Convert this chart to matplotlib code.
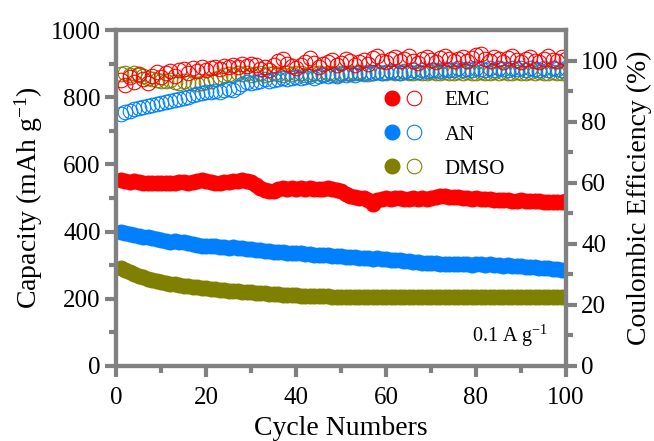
import matplotlib
matplotlib.use("Agg")
import matplotlib.pyplot as plt
import numpy as np
from matplotlib.legend_handler import HandlerTuple
from matplotlib.lines import Line2D

# cycle index, 1..100
cycles = np.arange(1, 101)

# discharge capacity, mAh g-1
cap_emc = [
    553, 550, 548, 551, 547, 545, 546, 544, 546, 545,
    544, 546, 545, 547, 548, 546, 549, 552, 555, 551,
    548, 546, 544, 547, 549, 550, 551, 553, 550, 548,
    540, 530, 523, 520, 522, 527, 529, 528, 530, 527,
    529, 528, 530, 527, 528, 526, 529, 527, 524, 520,
    512, 506, 502, 500, 499, 495, 482, 494, 498, 499,
    497, 499, 500, 498, 497, 499, 498, 500, 498, 500,
    503, 505, 506, 504, 503, 502, 500, 499, 498, 500,
    497, 496, 497, 495, 494, 493, 494, 492, 491, 493,
    492, 490, 491, 490, 488, 489, 487, 489, 488, 490,
]
cap_an = [
    398, 395, 392, 390, 387, 385, 383, 380, 377, 374,
    372, 370, 371, 369, 368, 366, 363, 360, 358, 357,
    356, 357, 355, 354, 352, 353, 351, 350, 349, 347,
    346, 344, 343, 341, 340, 339, 338, 337, 336, 335,
    335, 333, 332, 331, 330, 331, 329, 328, 327, 326,
    325, 324, 323, 322, 321, 320, 319, 320, 318, 317,
    316, 315, 314, 313, 312, 311, 310, 308, 307, 308,
    306, 305, 304, 305, 303, 304, 305, 303, 302, 304,
    303, 302, 304, 301, 300, 299, 300, 298, 299, 297,
    296, 295, 294, 293, 292, 291, 289, 288, 287, 286,
]
cap_dmso = [
    292, 285, 279, 273, 268, 264, 260, 256, 253, 250,
    247, 245, 243, 241, 239, 237, 235, 234, 232, 231,
    230, 228, 227, 226, 224, 223, 222, 221, 220, 219,
    218, 217, 216, 215, 214, 213, 212, 211, 210, 210,
    209, 209, 208, 208, 207, 207, 207, 206, 206, 206,
    205, 205, 204, 205, 205, 204, 205, 205, 204, 205,
    205, 204, 205, 205, 205, 204, 205, 205, 204, 205,
    205, 205, 204, 205, 205, 204, 205, 205, 205, 204,
    205, 205, 204, 205, 205, 205, 204, 205, 205, 204,
    205, 205, 205, 204, 205, 205, 204, 205, 205, 205,
]

# coulombic efficiency, %
ce_emc = [
    93.5, 92.0, 94.5, 93.0, 95.5, 94.0, 92.8, 95.0, 96.2, 94.5,
    95.8, 96.5, 95.0, 96.8, 97.2, 96.0, 97.5, 96.5, 97.8, 97.0,
    97.6, 98.0, 97.2, 98.3, 97.8, 98.6, 98.0, 99.0, 98.2, 98.8,
    98.4, 97.2, 98.0, 97.0, 98.6, 99.8, 100.5, 99.0, 98.2, 97.5,
    98.5, 99.6, 100.8, 99.2, 98.0, 98.8, 99.5, 100.2, 98.6, 99.2,
    100.6, 99.8, 98.6, 99.4, 100.2, 99.0, 100.8, 101.5, 100.0, 99.4,
    100.4, 101.2, 99.8, 100.6, 101.4, 100.0, 99.2, 100.6, 101.0, 100.2,
    99.6, 100.8, 101.6, 100.4, 99.8, 100.6, 101.2, 100.0, 100.8, 101.8,
    102.0, 100.6, 99.8, 101.0, 100.4, 99.6, 100.8, 101.6, 100.2, 99.6,
    100.4, 101.2, 100.0, 99.4, 100.6, 101.4, 100.2, 99.8, 101.0, 100.4,
]
ce_an = [
    82.5, 83.2, 83.6, 84.0, 84.4, 84.8, 85.2, 85.6, 85.9, 86.2,
    86.5, 86.8, 87.2, 87.5, 87.8, 88.2, 88.6, 89.0, 89.3, 89.6,
    89.8, 90.0, 89.6, 90.2, 90.6, 90.4, 91.4, 92.4, 93.0, 92.6,
    93.0, 93.4, 93.8, 93.2, 93.6, 94.0, 94.4, 93.8, 94.2, 94.6,
    94.2, 94.6, 95.0, 94.4, 94.8, 95.2, 94.8, 95.4, 95.0, 95.6,
    95.2, 95.8, 95.4, 96.0, 95.6, 96.2, 95.8, 96.4, 96.0, 96.2,
    96.6, 96.2, 96.0, 96.6, 96.4, 96.8, 96.4, 97.0, 96.6, 96.8,
    97.0, 96.6, 97.2, 96.8, 97.0, 97.4, 96.8, 97.2, 97.0, 97.4,
    97.2, 96.8, 97.4, 97.0, 97.6, 97.2, 97.0, 97.4, 97.2, 97.6,
    97.0, 97.4, 97.2, 96.8, 97.4, 97.0, 97.6, 97.2, 97.0, 97.4,
]
ce_dmso = [
    95.6, 96.0, 95.4, 95.8, 95.2, 94.8, 94.4, 94.0, 93.6, 93.4,
    93.2, 93.6, 93.0, 92.8, 93.2, 92.6, 92.8, 92.4, 92.8, 93.0,
    93.4, 94.0, 94.6, 95.2, 95.6, 95.4, 95.8, 95.6, 95.8, 95.4,
    95.6, 95.8, 95.4, 95.6, 96.0, 95.6, 95.4, 95.8, 95.6, 96.0,
    95.8, 95.4, 95.6, 96.0, 95.8, 95.6, 96.0, 95.8, 95.4, 95.8,
    96.0, 95.6, 95.8, 96.2, 95.8, 95.6, 96.0, 96.2, 95.8, 96.0,
    96.2, 95.8, 96.0, 96.2, 95.8, 96.0, 96.2, 96.0, 95.8, 96.2,
    96.0, 95.8, 96.2, 96.0, 95.8, 96.2, 96.0, 96.2, 95.8, 96.0,
    96.2, 96.0, 95.8, 96.2, 96.0, 96.2, 95.8, 96.0, 96.2, 96.0,
    95.8, 96.2, 96.0, 96.2, 95.8, 96.0, 96.2, 96.0, 95.8, 96.0,
]

labels = ["EMC", "AN", "DMSO"]
colors = ["#ff0000", "#0080ff", "#808000"]

plt.rcParams["font.family"] = "Liberation Serif"
plt.rcParams["mathtext.fontset"] = "custom"
plt.rcParams["mathtext.rm"] = "Liberation Serif"
plt.rcParams["mathtext.it"] = "Liberation Serif:italic"

GRAY = "#808080"

fig = plt.figure(figsize=(6.54, 4.41), dpi=100)
ax = fig.add_axes([116 / 654, 75 / 441, 450 / 654, 336 / 441])
ax2 = ax.twinx()

ms = 10.5
for caps, c in zip([cap_dmso, cap_an, cap_emc], colors[::-1]):
    ax.plot(cycles, caps, "o", color=c, ms=ms, mec=c, zorder=2)
for ces, c in zip([ce_dmso, ce_an, ce_emc], colors[::-1]):
    ax2.plot(cycles, ces, "o", mfc="none", mec=c, ms=ms, mew=0.8, zorder=2)

ax.set_xlim(0, 100)
ax.set_ylim(0, 1000)
ax2.set_ylim(0, 110)
ax.set_xticks(np.arange(0, 101, 20))
ax.set_xticks(np.arange(10, 100, 20), minor=True)
ax.set_yticks(np.arange(0, 1001, 200))
ax.set_yticks(np.arange(100, 1000, 200), minor=True)
ax2.set_yticks(np.arange(0, 101, 20))
ax2.set_yticks(np.arange(10, 101, 20), minor=True)

for a in (ax, ax2):
    for s in a.spines.values():
        s.set_color(GRAY)
        s.set_linewidth(3)
    a.tick_params(which="major", length=8, width=3, color=GRAY, labelsize=18, pad=3)
    a.tick_params(which="minor", length=5, width=3, color=GRAY)
ax.tick_params(axis="both", which="both", direction="out")
ax.tick_params(axis="x", which="major", pad=7)
ax.tick_params(axis="y", which="both", right=False)
ax2.tick_params(axis="y", which="both", left=False)

ax.set_xlabel("Cycle Numbers", fontsize=20, labelpad=5)
ax.set_ylabel("Capacity (mAh g$^{-1}$)", fontsize=20, labelpad=4)
ax2.set_ylabel("Coulombic Efficiency (%)", fontsize=20, labelpad=6)

ax2.text(0.96, 0.05, "0.1 A g$^{-1}$", transform=ax2.transAxes, ha="right",
         va="bottom", fontsize=14.5)

handles = []
for c in colors:
    filled = Line2D([], [], ls="none", marker="o", color=c, mec=c, ms=ms)
    hollow = Line2D([], [], ls="none", marker="o", mfc="none", mec=c, ms=ms, mew=0.8)
    handles.append((filled, hollow))
ax2.legend(handles, labels, handler_map={tuple: HandlerTuple(ndivide=None, pad=0.15)},
           loc="upper left", bbox_to_anchor=(0.55, 0.875), frameon=False,
           fontsize=15, handlelength=2.0, handletextpad=1.0, labelspacing=0.7)

fig.savefig("out.png", dpi=100)
